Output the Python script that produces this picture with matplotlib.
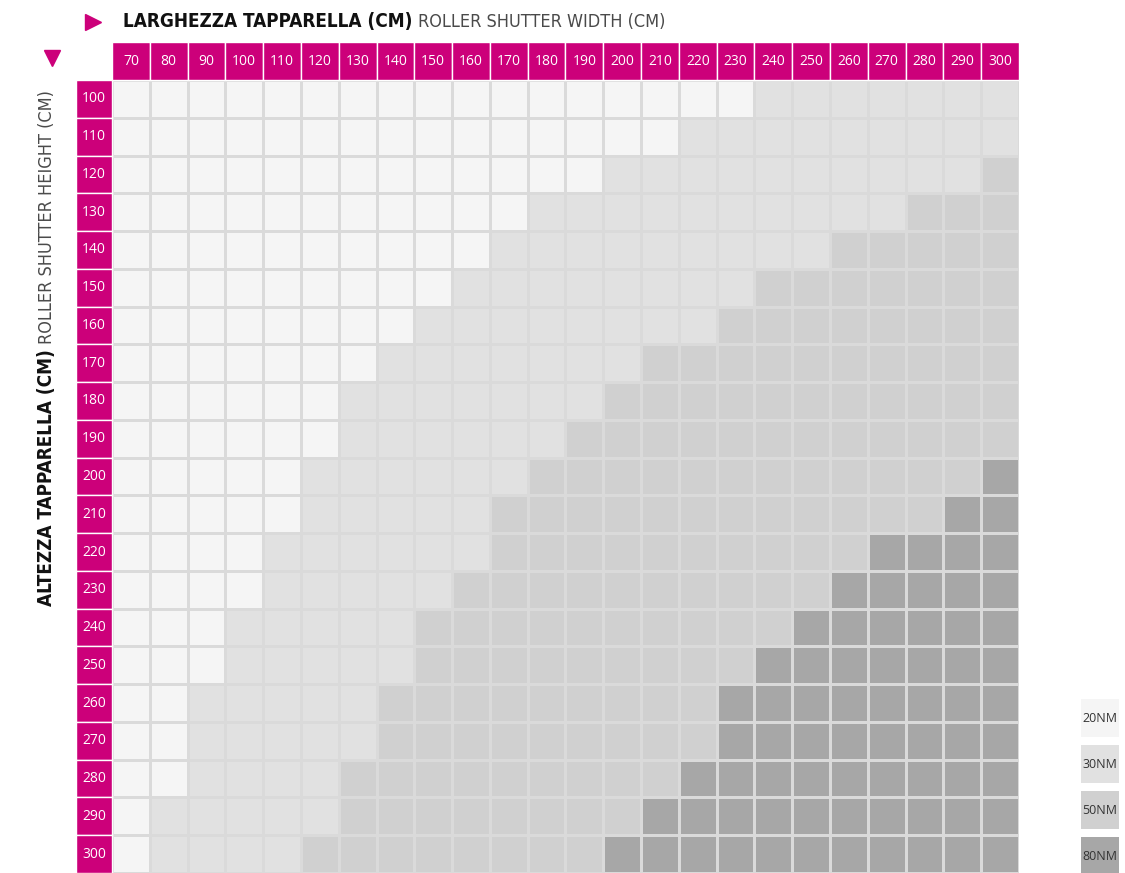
import numpy as np
import matplotlib
matplotlib.use('Agg')
import matplotlib.pyplot as plt
from matplotlib.colors import ListedColormap
from matplotlib.lines import Line2D
from matplotlib.patches import Rectangle

# roller shutter widths (columns) and heights (rows), cm
widths = [70, 80, 90, 100, 110, 120, 130, 140, 150, 160, 170, 180,
          190, 200, 210, 220, 230, 240, 250, 260, 270, 280, 290, 300]
heights = [100, 110, 120, 130, 140, 150, 160, 170, 180, 190, 200,
           210, 220, 230, 240, 250, 260, 270, 280, 290, 300]

# motor class for each cell: one string per height, one char per width
# 0 = 20NM, 1 = 30NM, 2 = 50NM, 3 = 80NM
torque_rows = [
    "000000000000000001111111",  # 100
    "000000000000000111111111",  # 110
    "000000000000011111111112",  # 120
    "000000000001111111111222",  # 130
    "000000000011111111122222",  # 140
    "000000000111111112222222",  # 150
    "000000001111111122222222",  # 160
    "000000011111112222222222",  # 170
    "000000111111122222222222",  # 180
    "000000111111222222222222",  # 190
    "000001111112222222222223",  # 200
    "000001111122222222222233",  # 210
    "000011111122222222223333",  # 220
    "000011111222222222233333",  # 230
    "000111112222222222333333",  # 240
    "000111112222222223333333",  # 250
    "001111122222222233333333",  # 260
    "001111122222222233333333",  # 270
    "001111222222222333333333",  # 280
    "011111222222223333333333",  # 290
    "011112222222233333333333",  # 300
]

torque_labels = ['20NM', '30NM', '50NM', '80NM']
torque_colors = ['#f5f5f5', '#e1e1e1', '#d0d0d0', '#a7a7a7']

pink = '#cc007a'
W, H = 1125, 873

plt.rcParams['font.family'] = ['Open Sans', 'DejaVu Sans']

fig = plt.figure(figsize=(W / 100, H / 100), dpi=100)
ax = fig.add_axes([112 / W, 0, (1019 - 112) / W, (873 - 80) / H])

grid = np.array([[int(c) for c in row] for row in torque_rows])
ax.pcolormesh(np.arange(len(widths) + 1) - 0.5, np.arange(len(heights) + 1) - 0.5,
              grid, cmap=ListedColormap(torque_colors), vmin=-0.5, vmax=3.5,
              edgecolors='#dadada', linewidth=1)

# header row (widths) and header column (heights)
ax.bar(range(len(widths)), 1, bottom=-1.5, width=1, color=pink,
       edgecolor='white', linewidth=1, clip_on=False)
ax.barh(range(len(heights)), 0.96, left=-1.46, height=1, color=pink,
        edgecolor='white', linewidth=1, clip_on=False)
for i, w in enumerate(widths):
    ax.text(i, -1.0, str(w), ha='center', va='center', color='white', fontsize=10)
for j, h in enumerate(heights):
    ax.text(-0.98, j, str(h), ha='center', va='center', color='white', fontsize=10)

ax.set_xlim(-0.5, len(widths) - 0.5)
ax.set_ylim(len(heights) - 0.5, -0.5)
ax.axis('off')

# titles (condensed face)
cond = dict(family='DejaVu Sans', fontstretch='condensed')
t1 = fig.text(123 / W, 1 - 27 / H, 'LARGHEZZA TAPPARELLA (CM)', fontweight='bold',
              fontsize=13.6, color='#111111', va='baseline', **cond)
ax.annotate('ROLLER SHUTTER WIDTH (CM)', xy=(1, 0), xycoords=t1, xytext=(4, 0),
            textcoords='offset points', fontsize=13, color='#4a4a4a',
            va='bottom', ha='left', annotation_clip=False, **cond)

t2 = fig.text(47 / W, 1 - 606 / H, 'ALTEZZA TAPPARELLA (CM)', fontweight='bold',
              fontsize=13.6, color='#111111', rotation=90, ha='center',
              va='bottom', **cond)
ax.annotate('ROLLER SHUTTER HEIGHT (CM)', xy=(0.5, 1), xycoords=t2, xytext=(0, 4),
            textcoords='offset points', fontsize=13, color='#4a4a4a',
            rotation=90, ha='center', va='bottom', annotation_clip=False, **cond)

# arrows
fig.add_artist(Line2D([93 / W], [1 - 22 / H], marker='>', markersize=12,
                      color=pink, linestyle='none', transform=fig.transFigure))
fig.add_artist(Line2D([52 / W], [1 - 58 / H], marker='v', markersize=12,
                      color=pink, linestyle='none', transform=fig.transFigure))

# legend
for k, (lab, col) in enumerate(zip(torque_labels, torque_colors)):
    top = 699 + 46 * k
    fig.add_artist(Rectangle((1081 / W, 1 - (top + 38) / H), 38 / W, 38 / H,
                             facecolor=col, edgecolor='none',
                             transform=fig.transFigure))
    fig.text(1100 / W, 1 - (top + 19) / H, lab, ha='center', va='center',
             fontsize=9, color='#333333')

fig.savefig('out.png', dpi=100)
